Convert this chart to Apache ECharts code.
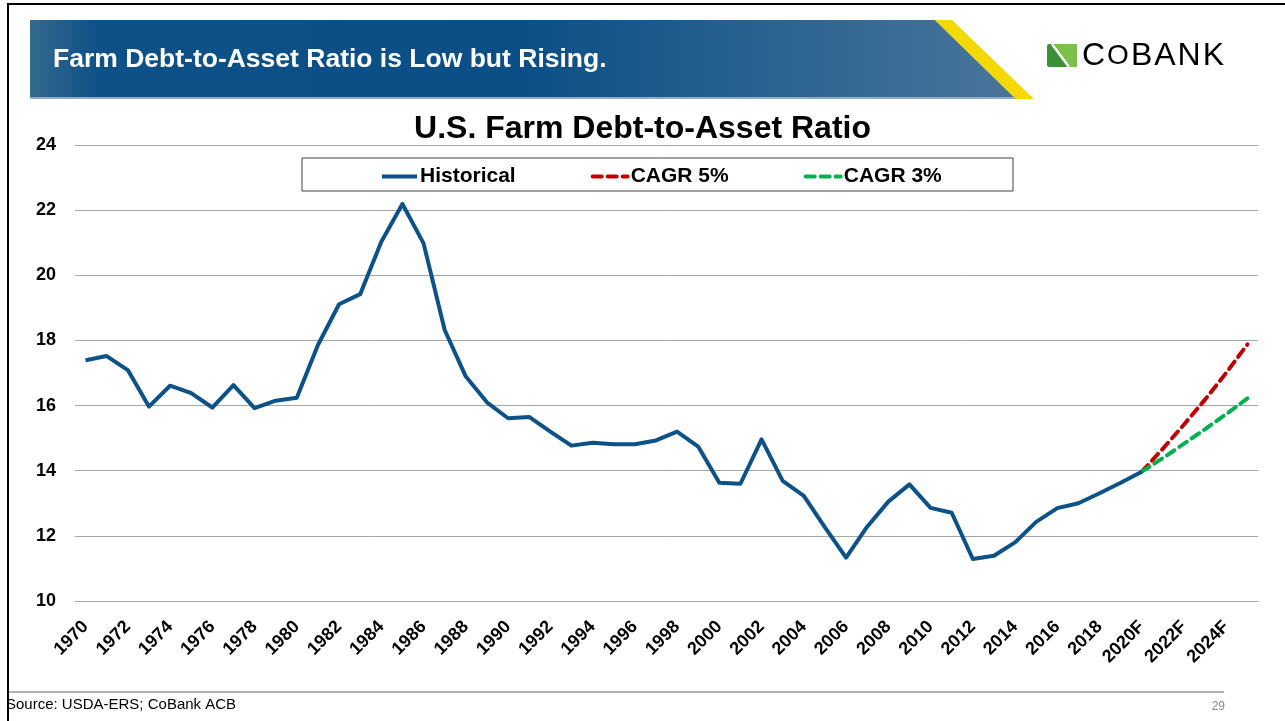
<!DOCTYPE html>
<html>
<head>
<meta charset="utf-8">
<title>U.S. Farm Debt-to-Asset Ratio</title>
<script src="https://cdn.jsdelivr.net/npm/echarts@6/dist/echarts.min.js"></script>
<style>
  html, body { margin: 0; padding: 0; background: #fff; }
  #chart { width: 1285px; height: 721px; }
</style>
</head>
<body>
<div id="chart"></div>
<script>
const years = [
  '1970', '1971', '1972', '1973', '1974', '1975', '1976', '1977', '1978', '1979',
  '1980', '1981', '1982', '1983', '1984', '1985', '1986', '1987', '1988', '1989',
  '1990', '1991', '1992', '1993', '1994', '1995', '1996', '1997', '1998', '1999',
  '2000', '2001', '2002', '2003', '2004', '2005', '2006', '2007', '2008', '2009',
  '2010', '2011', '2012', '2013', '2014', '2015', '2016', '2017', '2018', '2019',
  '2020F', '2021F', '2022F', '2023F', '2024F', '2025F',
];

// debt-to-asset ratio, %, 1970-2020
const historical = [
  17.39, 17.52, 17.09, 15.97, 16.61, 16.38, 15.94, 16.63, 15.92, 16.15,
  16.24, 17.86, 19.11, 19.42, 21.03, 22.19, 20.98, 18.32, 16.89, 16.10,
  15.61, 15.65, 15.20, 14.77, 14.86, 14.81, 14.81, 14.93, 15.20, 14.74,
  13.63, 13.60, 14.96, 13.69, 13.23, 12.26, 11.33, 12.28, 13.05, 13.58,
  12.86, 12.71, 11.29, 11.39, 11.80, 12.43, 12.85, 13.00, 13.31, 13.63,
  13.97,
];

// projections 2020F-2025F
const cagr5 = [13.97, 14.68, 15.42, 16.19, 17.01, 17.88];
const cagr3 = [13.97, 14.39, 14.83, 15.28, 15.74, 16.22];

const yTicks = { min: 10, max: 24, step: 2 };

const seriesNames = ['Historical', 'CAGR 5%', 'CAGR 3%'];

const padFront = (values) => years.map((y, i) => {
  const k = i - (years.length - values.length);
  return k >= 0 ? values[k] : null;
});

const padBack = (values) => years.map((y, i) => (i < values.length ? values[i] : null));

const FONT = 'Liberation Sans, Arial, Helvetica, sans-serif';

const chartNode = document.getElementById('chart');
const chart = echarts.init(chartNode, null, { renderer: 'canvas' });

const option = {
  animation: false,
  backgroundColor: '#ffffff',
  textStyle: { fontFamily: FONT },
  title: {
    text: 'U.S. Farm Debt-to-Asset Ratio',
    left: 'center',
    top: 113,
    padding: 0,
    textStyle: { fontFamily: FONT, fontSize: 32, fontWeight: 'bold', color: '#000' },
  },
  legend: {
    data: seriesNames,
    left: 380,
    top: 166,
    padding: 0,
    itemGap: 75,
    itemWidth: 35,
    itemHeight: 14,
    itemStyle: { opacity: 0 },
    lineStyle: { width: 4 },
    textStyle: { fontFamily: FONT, fontSize: 21, fontWeight: 'bold', color: '#000', padding: [0, 0, 0, -2] },
  },
  grid: {
    left: 75,
    right: 27,
    top: 145,
    bottom: 120,
    containLabel: false,
  },
  xAxis: {
    type: 'category',
    data: years,
    boundaryGap: true,
    axisLine: { show: true, lineStyle: { color: '#a6a6a6', width: 1 } },
    axisTick: { show: false },
    axisLabel: {
      interval: 1,
      rotate: 45,
      margin: 23,
      color: '#000',
      fontFamily: FONT,
      fontSize: 18,
      fontWeight: 'bold',
    },
  },
  yAxis: {
    type: 'value',
    min: yTicks.min,
    max: yTicks.max,
    interval: yTicks.step,
    axisLine: { show: false },
    axisTick: { show: false },
    axisLabel: {
      margin: 19,
      color: '#000',
      fontFamily: FONT,
      fontSize: 18,
      fontWeight: 'bold',
    },
    splitLine: { lineStyle: { color: '#a6a6a6', width: 1 } },
  },
  series: [
    {
      name: 'Historical',
      type: 'line',
      data: padBack(historical),
      symbol: 'none',
      color: '#0c5288',
      lineStyle: { width: 4, color: '#0c5288', join: 'round' },
      z: 3,
    },
    {
      name: 'CAGR 5%',
      type: 'line',
      data: padFront(cagr5),
      symbol: 'none',
      color: '#c00000',
      lineStyle: { width: 4, color: '#c00000', type: [9, 6], cap: 'round' },
      z: 2,
    },
    {
      name: 'CAGR 3%',
      type: 'line',
      data: padFront(cagr3),
      symbol: 'none',
      color: '#00b050',
      lineStyle: { width: 4, color: '#00b050', type: [9, 6], cap: 'round' },
      z: 2,
    },
  ],
  graphic: [
    // slide frame
    { type: 'rect', shape: { x: 7, y: 3, width: 1278, height: 2 }, style: { fill: '#000' }, silent: true },
    { type: 'rect', shape: { x: 7, y: 3, width: 2, height: 718 }, style: { fill: '#000' }, silent: true },
    // header banner
    {
      type: 'polygon',
      shape: { points: [[30, 20], [935, 20], [1016, 99], [30, 99]] },
      style: {
        fill: new echarts.graphic.LinearGradient(0, 0, 1, 0, [
          { offset: 0, color: '#34698f' },
          { offset: 0.07, color: '#0e5088' },
          { offset: 0.5, color: '#0b4f86' },
          { offset: 1, color: '#4a769b' },
        ]),
      },
      silent: true,
    },
    { type: 'rect', shape: { x: 30, y: 97, width: 985, height: 2 }, style: { fill: '#8fabc6' }, silent: true },
    {
      type: 'polygon',
      shape: { points: [[935, 20], [952, 20], [1034, 99], [1016, 99]] },
      style: { fill: '#f5d800' },
      silent: true,
    },
    {
      type: 'text',
      x: 53,
      y: 60,
      style: {
        text: 'Farm Debt-to-Asset Ratio is Low but Rising.',
        fill: '#ffffff',
        font: 'bold 26.5px ' + FONT,
        textVerticalAlign: 'middle',
      },
      silent: true,
    },
    // CoBank logo
    { type: 'rect', shape: { x: 1047, y: 44, width: 30, height: 23, r: 2 }, style: { fill: '#3d8f3a' }, silent: true },
    {
      type: 'polygon',
      shape: { points: [[1054, 44], [1077, 44], [1077, 67], [1070, 67]] },
      style: { fill: '#7cc04a' },
      silent: true,
    },
    {
      type: 'line',
      shape: { x1: 1052, y1: 44, x2: 1069, y2: 67 },
      style: { stroke: '#ffffff', lineWidth: 2.5 },
      silent: true,
    },
    {
      type: 'text',
      x: 1081,
      y: 56,
      style: {
        text: '{a|C}{b|O}{a|B}{a|A}{a|N}{a|K}',
        textVerticalAlign: 'middle',
        rich: {
          a: { fontFamily: FONT, fontSize: 32, color: '#1b4a78', padding: [0, 1, 0, 1] },
          b: { fontFamily: FONT, fontSize: 28, color: '#1b4a78', padding: [0, 1, 0, 1] },
        },
      },
      silent: true,
    },
    // legend box
    {
      type: 'rect',
      shape: { x: 302, y: 158, width: 711, height: 33 },
      style: { fill: 'rgba(255,255,255,0)', stroke: '#404040', lineWidth: 1 },
      z: 100,
      silent: true,
    },
    // footer
    { type: 'rect', shape: { x: 9, y: 691, width: 1215, height: 2 }, style: { fill: '#b0b0b0' }, silent: true },
    {
      type: 'text',
      x: 6,
      y: 705,
      style: { text: 'Source: USDA-ERS; CoBank ACB', fill: '#000', font: '15px ' + FONT, textVerticalAlign: 'middle' },
      silent: true,
    },
    {
      type: 'text',
      x: 1225,
      y: 707,
      style: { text: '29', fill: '#888888', font: '12px ' + FONT, textAlign: 'right', textVerticalAlign: 'middle' },
      silent: true,
    },
  ],
};

chart.setOption(option);

window.addEventListener('resize', () => chart.resize());
</script>
</body>
</html>
